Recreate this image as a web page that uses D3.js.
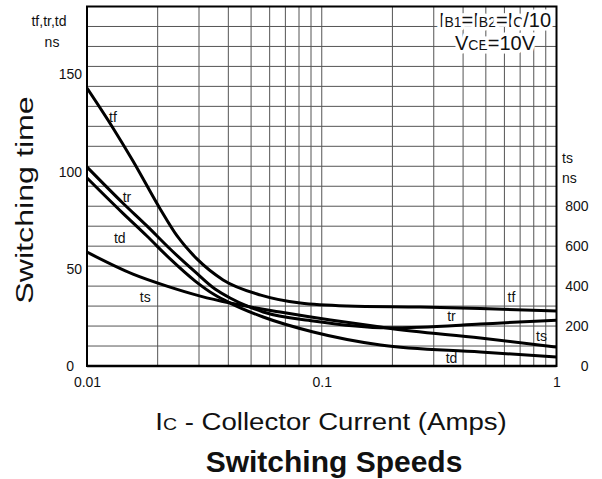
<!DOCTYPE html>
<html>
<head>
<meta charset="utf-8">
<script src="https://cdn.jsdelivr.net/npm/d3@7/dist/d3.min.js"></script>
<style>
  body { margin: 0; background: #fff; }
  svg { display: block; font-family: "Liberation Sans", Arial, sans-serif; }
</style>
</head>
<body>
<script>
// switching times (Ic in amps, times in ns)
var tfIc = [0.01, 0.0129, 0.0157, 0.0205, 0.0242, 0.0294, 0.038, 0.055, 0.081, 0.128, 0.263, 0.474, 1];
var tfNs = [143, 122.5, 105.5, 80.8, 66.9, 55.1, 44.3, 36.5, 32.4, 30.9, 30.3, 29.6, 28.3];

var trIc = [0.01, 0.0142, 0.018, 0.0226, 0.0289, 0.0351, 0.0407, 0.048, 0.0563, 0.092, 0.19, 0.263, 0.474, 1];
var trNs = [102.4, 83.9, 72.1, 60.2, 48.4, 39.6, 35, 30.9, 27.8, 23.2, 19.7, 20, 21.6, 23.6];

var tdIc = [0.01, 0.0142, 0.018, 0.0226, 0.0289, 0.0351, 0.0407, 0.0563, 0.092, 0.178, 0.474, 1];
var tdNs = [96.8, 78.7, 66.9, 55.1, 43.7, 36.5, 32.4, 25.2, 17.5, 10.8, 7.2, 4.6];

// storage time uses the right hand axis
var tsIc = [0.01, 0.0157, 0.0219, 0.0304, 0.0407, 0.0665, 0.109, 0.178, 0.19, 0.474, 1];
var tsNs = [570, 460, 400, 350, 315, 270, 230, 195, 190, 140, 95];

var xTicks = [0.01, 0.1, 1];
var leftTicks = [0, 50, 100, 150];
var rightTicks = [0, 200, 400, 600, 800];

var WIDTH = 602;
var HEIGHT = 479;
var pLeft = 87, pRight = 556.5, pTop = 6.5, pBottom = 366;

var svg = d3.select("body")
	.append("svg")
	.attr("width", WIDTH)
	.attr("height", HEIGHT);

var x = d3.scaleLog().domain([0.01, 1]).range([pLeft, pRight]);
var yL = d3.scaleLinear().domain([0, 185]).range([pBottom, pTop]);
var yR = d3.scaleLinear().domain([0, 1800]).range([pBottom, pTop]);

// grid
var vGrid = [];
[0.01, 0.1].forEach(function(d) {
	for (var k = 1; k < 10; k++) vGrid.push(d * k);
});
vGrid.push(1);

svg.append("g")
	.selectAll("line")
	.data(vGrid)
	.enter()
	.append("line")
	.attr("x1", function(d) { return x(d); })
	.attr("x2", function(d) { return x(d); })
	.attr("y1", pTop)
	.attr("y2", pBottom)
	.attr("stroke", "#555")
	.attr("stroke-width", 1);

svg.append("g")
	.selectAll("line")
	.data(d3.range(0, 1801, 100))
	.enter()
	.append("line")
	.attr("x1", pLeft)
	.attr("x2", pRight)
	.attr("y1", function(d) { return yR(d); })
	.attr("y2", function(d) { return yR(d); })
	.attr("stroke", "#555")
	.attr("stroke-width", 1);

// conditions text, white halo hides the grid behind it
var cond = svg.append("g")
	.attr("font-size", 20)
	.attr("text-anchor", "middle")
	.attr("fill", "#111");

var c1 = cond.append("text").attr("x", 495).attr("y", 27)
	.attr("stroke", "#fff").attr("stroke-width", 7).attr("paint-order", "stroke")
	.attr("stroke-linejoin", "round");
c1.append("tspan").text("I");
c1.append("tspan").attr("font-size", 14).text("B1");
c1.append("tspan").text("=I");
c1.append("tspan").attr("font-size", 14).text("B2");
c1.append("tspan").text("=I");
c1.append("tspan").attr("font-size", 14).text("C");
c1.append("tspan").text("/10");

var c2 = cond.append("text").attr("x", 495).attr("y", 50)
	.attr("stroke", "#fff").attr("stroke-width", 7).attr("paint-order", "stroke")
	.attr("stroke-linejoin", "round");
c2.append("tspan").text("V");
c2.append("tspan").attr("font-size", 14).text("CE");
c2.append("tspan").text("=10V");

// curves
svg.append("clipPath").attr("id", "plot")
	.append("rect")
	.attr("x", pLeft).attr("y", pTop)
	.attr("width", pRight - pLeft).attr("height", pBottom - pTop);

var curves = [
	{ ic: tfIc, v: tfNs, y: yL },
	{ ic: trIc, v: trNs, y: yL },
	{ ic: tdIc, v: tdNs, y: yL },
	{ ic: tsIc, v: tsNs, y: yR }
];

curves.forEach(function(c) {
	var line = d3.line()
		.x(function(d) { return x(d); })
		.y(function(d, i) { return c.y(c.v[i]); })
		.curve(d3.curveMonotoneX);
	svg.append("path")
		.attr("clip-path", "url(#plot)")
		.attr("d", line(c.ic))
		.attr("fill", "none")
		.attr("stroke", "#000")
		.attr("stroke-width", 3)
		.attr("stroke-linejoin", "round");
});

// curve labels
var labelText = ["tf", "tr", "td", "ts", "tf", "tr", "ts", "td"];
var labelIc = [0.0129, 0.0148, 0.0138, 0.0177, 0.643, 0.357, 0.863, 0.357];
var labelVal = [128, 87, 65.8, 345, 35.5, 25.7, 150, 4.1];
var labelAxis = ["L", "L", "L", "R", "L", "L", "R", "L"];

svg.append("g")
	.selectAll("text")
	.data(labelText)
	.enter()
	.append("text")
	.attr("x", function(d, i) { return x(labelIc[i]); })
	.attr("y", function(d, i) { return (labelAxis[i] == "L" ? yL : yR)(labelVal[i]); })
	.attr("dy", "0.35em")
	.attr("text-anchor", "middle")
	.attr("font-size", 14)
	.attr("fill", "#111")
	.text(function(d) { return d; });

// frame
svg.append("rect")
	.attr("x", pLeft).attr("y", pTop)
	.attr("width", pRight - pLeft).attr("height", pBottom - pTop)
	.attr("fill", "none")
	.attr("stroke", "#000")
	.attr("stroke-width", 2);
svg.append("line")
	.attr("x1", pLeft).attr("x2", pRight)
	.attr("y1", pBottom).attr("y2", pBottom)
	.attr("stroke", "#000").attr("stroke-width", 2.5);

// axes
var fmt = function(d) { return d3.format("~g")(d); };

var gx = svg.append("g")
	.attr("transform", "translate(0," + pBottom + ")")
	.call(d3.axisBottom(x).tickValues(xTicks).tickFormat(fmt).tickSize(0).tickPadding(11));
var gl = svg.append("g")
	.attr("transform", "translate(" + pLeft + ",0)")
	.call(d3.axisLeft(yL).tickValues(leftTicks).tickSize(0).tickPadding(5));
var gr = svg.append("g")
	.attr("transform", "translate(" + pRight + ",0)")
	.call(d3.axisRight(yR).tickValues(rightTicks).tickSize(0).tickPadding(32));

[gx, gl, gr].forEach(function(g) {
	g.select(".domain").remove();
	g.selectAll("text")
		.attr("font-size", 14)
		.attr("font-family", "Liberation Sans, Arial, sans-serif")
		.attr("fill", "#111");
});
gr.selectAll("text").attr("text-anchor", "end");
gl.selectAll("text").filter(function(d) { return d === 0; }).attr("dx", -8);

// unit labels
var units = svg.append("g").attr("font-size", 14).attr("fill", "#111");
units.append("text").attr("x", 49).attr("y", 26).attr("text-anchor", "middle").text("tf,tr,td");
units.append("text").attr("x", 52).attr("y", 47).attr("text-anchor", "middle").text("ns");
units.append("text").attr("x", 562).attr("y", 163).text("ts");
units.append("text").attr("x", 562).attr("y", 183).text("ns");

// titles
svg.append("text")
	.attr("transform", "translate(33,200) rotate(-90) scale(1.4,1)")
	.attr("text-anchor", "middle")
	.attr("font-size", 23)
	.attr("fill", "#111")
	.text("Switching time");

var xt = svg.append("text")
	.attr("transform", "translate(331,430) scale(1.15,1)")
	.attr("text-anchor", "middle")
	.attr("font-size", 24)
	.attr("fill", "#111");
xt.append("tspan").text("I");
xt.append("tspan").attr("font-size", 17).text("C");
xt.append("tspan").text(" - Collector Current (Amps)");

svg.append("text")
	.attr("x", 334)
	.attr("y", 472)
	.attr("text-anchor", "middle")
	.attr("font-size", 30)
	.attr("font-weight", "bold")
	.attr("fill", "#111")
	.text("Switching Speeds");
</script>
</body>
</html>
